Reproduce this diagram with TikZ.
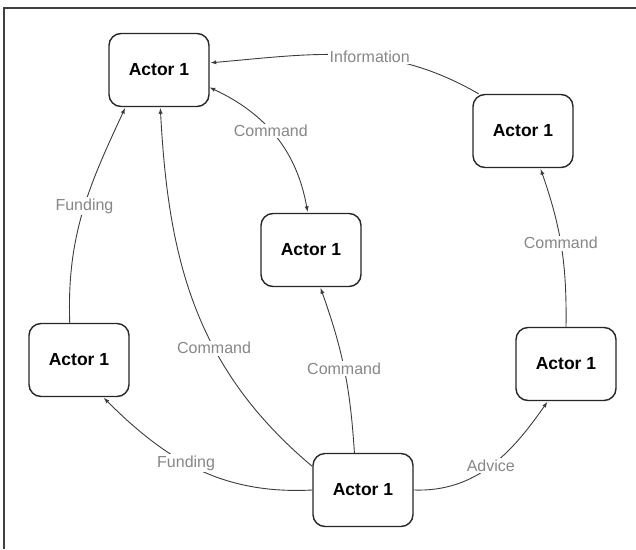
\documentclass[tikz,border=0pt]{standalone}
\usepackage{fontspec}
\setmainfont{Liberation Sans}
\usepackage{tikz}
\usetikzlibrary{calc}

\definecolor{labelgray}{RGB}{135,135,135}
\definecolor{linegray}{RGB}{60,60,60}

\begin{document}
\begin{tikzpicture}[x=1pt,y=-1pt,>=latex,
        actor/.style={draw=black!85,line width=1.4pt,rounded corners=12pt,fill=white,
            minimum width=100pt,minimum height=73pt,font=\fontsize{17.5}{20}\selectfont\bfseries},
        link/.style={->,draw=linegray,line width=0.9pt,shorten >=1pt},
        lbl/.style={fill=white,text=labelgray,inner sep=1.5pt,font=\fontsize{16}{18}\selectfont}]
        \useasboundingbox (0,0) rectangle (636,549);

        % Draw the frame
        \draw[black!75,line width=1.8pt] (4,549) -- (4,8) -- (636,8);

        % Draw the actors
        \node[actor] (actTL) at (159,70) {Actor 1};
        \node[actor] (actTR) at (523,131) {Actor 1};
        \node[actor] (actMid) at (311,250) {Actor 1};
        \node[actor] (actL) at (79,360) {Actor 1};
        \node[actor] (actR) at (566,364) {Actor 1};
        \node[actor] (actB) at (363,490) {Actor 1};

        % Draw the connections
        \draw[link] (actTR.140) to[out=150,in=5] node[lbl,pos=0.42] {Information} (actTL.8);
        \draw[link,<->] (actTL.-19) to[out=-25,in=100] node[lbl,pos=0.45] {Command} (actMid.95);
        \draw[link] (actL.104) to[out=92,in=245] node[lbl,pos=0.53] {Funding} (actTL.228);
        \draw[link] (actB.155) to[out=140,in=273] node[lbl,pos=0.38] {Command} (actTL.272);
        \draw[link] (actB.103) to[bend right=8] node[lbl,pos=0.5] {Command} (actMid.-76);
        \draw[link] (actB.west) to[out=183,in=-45] node[lbl,pos=0.56] {Funding} (actL.-57);
        \draw[link] (actB.east) to[out=-2,in=235] node[lbl,pos=0.5] {Advice} (actR.244);
        \draw[link] (actR.north) to[bend right=10] node[lbl,pos=0.52] {Command} (actTR.-65);
    \end{tikzpicture}
\end{document}
